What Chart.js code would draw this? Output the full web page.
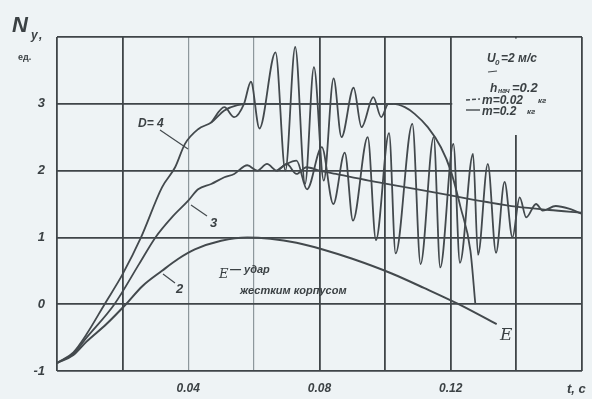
<!DOCTYPE html>
<html>
<head>
<meta charset="utf-8">
<script src="https://cdn.jsdelivr.net/npm/chart.js@4.4.0/dist/chart.umd.min.js"></script>
<style>
  body { margin: 0; background: #eef3f5; }
  #wrap { width: 592px; height: 399px; }
</style>
</head>
<body>
<div id="wrap"><canvas id="myChart" width="592" height="399"></canvas></div>
<script>
// значения (t, с ; Ny, ед.)
var xTickLabels = ["0.04", "0.08", "0.12"];
var yTickLabels = ["-1", "0", "1", "2", "3"];

// D = 4, m = 0.2 кг
var d4Time = [0, 0.005, 0.009, 0.0145, 0.020, 0.0256, 0.032, 0.036, 0.039, 0.043, 0.047, 0.051, 0.055, 0.060, 0.070, 0.080, 0.090, 0.1025, 0.106, 0.109, 0.113, 0.117, 0.120, 0.123, 0.126, 0.1275];
var d4Val  = [-0.88, -0.72, -0.45, 0, 0.45, 1.0, 1.75, 2.05, 2.4, 2.62, 2.72, 2.9, 2.98, 3.0, 3.0, 3.0, 3.0, 3.0, 2.95, 2.85, 2.65, 2.35, 2.0, 1.45, 0.8, 0.0];

// D = 4, m = 0.02 кг (колебания)
var d4oscTime = [0.047, 0.051, 0.054, 0.057, 0.0591, 0.0617, 0.0666, 0.0696, 0.0726, 0.0756, 0.0783, 0.0813, 0.0843, 0.0867, 0.0904, 0.0928, 0.0964, 0.0988, 0.1010, 0.1025];
var d4oscVal  = [2.72, 2.95, 2.8, 3.0, 3.33, 2.63, 3.77, 2.0, 3.85, 1.8, 3.55, 1.85, 3.38, 2.5, 3.24, 2.65, 3.1, 2.8, 3.0, 3.0];

// D = 3, m = 0.2 кг
var d3Time = [0, 0.005, 0.009, 0.0175, 0.025, 0.030, 0.035, 0.040, 0.043, 0.047, 0.051, 0.054, 0.058, 0.061, 0.064, 0.067, 0.070, 0.073, 0.076, 0.080, 0.085, 0.095, 0.103, 0.112, 0.122, 0.131, 0.140, 0.150, 0.160];
var d3Val  = [-0.88, -0.74, -0.5, 0, 0.6, 1.0, 1.3, 1.55, 1.72, 1.8, 1.9, 1.95, 2.08, 2.0, 2.1, 2.0, 2.1, 1.95, 2.05, 2.0, 1.95, 1.85, 1.78, 1.7, 1.61, 1.53, 1.46, 1.41, 1.37];

// D = 3, m = 0.02 кг (колебания)
var d3oscTime = [0.067, 0.070, 0.073, 0.0762, 0.0807, 0.0842, 0.0877, 0.0902, 0.0947, 0.0972, 0.1012, 0.1032, 0.1083, 0.1108, 0.1148, 0.1168, 0.1208, 0.1228, 0.1268, 0.1283, 0.1313, 0.1338, 0.1364, 0.1388, 0.141, 0.143, 0.146, 0.148, 0.152, 0.156, 0.160];
var d3oscVal  = [2.0, 2.1, 2.15, 1.72, 2.35, 1.5, 2.27, 1.25, 2.5, 0.96, 2.56, 0.76, 2.7, 0.6, 2.5, 0.55, 2.4, 0.62, 2.25, 0.74, 2.1, 0.77, 1.83, 1.0, 1.6, 1.3, 1.5, 1.4, 1.47, 1.43, 1.35];

// D = 2
var d2Time = [0, 0.005, 0.009, 0.015, 0.021, 0.026, 0.032, 0.037, 0.042, 0.050, 0.058, 0.065, 0.073, 0.081, 0.090, 0.102, 0.112, 0.1224, 0.134];
var d2Val  = [-0.88, -0.76, -0.56, -0.3, 0, 0.27, 0.5, 0.68, 0.82, 0.95, 1.0, 0.98, 0.92, 0.82, 0.68, 0.46, 0.24, 0.0, -0.3];

var lineColor = '#43494d';

function toPoints(times, vals){
  var pts = [];
  for (var i = 0; i < times.length; i++){
    pts.push({x: times[i], y: vals[i]});
  }
  return pts;
}

function makeSet(times, vals, width){
  return {
    data: toPoints(times, vals),
    borderColor: lineColor,
    borderWidth: width,
    pointRadius: 0,
    fill: false,
    cubicInterpolationMode: 'monotone'
  };
}

var font = 'italic bold 13px "Liberation Sans", Arial, sans-serif';

// фон, рамка легенды и подписи
var notes = {
  id: 'notes',
  beforeDraw: function(chart){
    var ctx = chart.ctx;
    ctx.save();
    ctx.fillStyle = '#eef3f5';
    ctx.fillRect(0, 0, chart.width, chart.height);
    ctx.restore();
  },
  beforeDatasetsDraw: function(chart){
    var ctx = chart.ctx;
    var x = chart.scales.x, y = chart.scales.y;
    ctx.save();
    ctx.fillStyle = '#eef3f5';
    // поле легенды закрывает сетку справа вверху
    var l = x.getPixelForValue(0.12) + 1.5;
    var r = x.getPixelForValue(0.16) - 1;
    var t = y.getPixelForValue(4) + 1.5;
    ctx.fillRect(l, t, r - l, 135 - t);
    ctx.restore();
  },
  afterDatasetsDraw: function(chart){
    var ctx = chart.ctx;
    ctx.save();
    ctx.fillStyle = '#3b4144';
    ctx.strokeStyle = '#454b4f';
    ctx.textBaseline = 'alphabetic';

    // ось Ny
    ctx.font = 'italic bold 22px "Liberation Sans", Arial, sans-serif';
    ctx.fillText('N', 12, 32);
    ctx.font = 'italic bold 12px "Liberation Sans", Arial, sans-serif';
    ctx.fillText('y', 31, 39);
    ctx.fillText(',', 39, 39);
    ctx.font = 'bold 9px "Liberation Sans", Arial, sans-serif';
    ctx.fillText('ед.', 18, 60);

    // ось t
    ctx.font = font;
    ctx.fillText('t, c', 567, 393);

    // метки кривых
    ctx.lineWidth = 1.2;
    ctx.beginPath();
    ctx.moveTo(160, 130); ctx.lineTo(188, 149);
    ctx.moveTo(191, 205); ctx.lineTo(207, 216);
    ctx.moveTo(163, 274); ctx.lineTo(175, 283);
    ctx.stroke();
    ctx.font = 'italic bold 12px "Liberation Sans", Arial, sans-serif';
    ctx.fillText('D= 4', 138, 127);
    ctx.font = font;
    ctx.fillText('3', 210, 227);
    ctx.fillText('2', 176, 293);

    // удар жестким корпусом
    ctx.font = 'italic 17px "DejaVu Serif", serif';
    ctx.fillText('E', 500, 340);
    ctx.font = 'italic 13px "DejaVu Serif", serif';
    ctx.fillText('E', 219, 278);
    ctx.font = 'italic bold 11px "Liberation Sans", Arial, sans-serif';
    ctx.fillText('— удар', 230, 273);
    ctx.fillText('жестким корпусом', 240, 294, 143);

    // легенда
    ctx.font = 'italic bold 12px "Liberation Sans", Arial, sans-serif';
    ctx.fillText('U', 487, 62);
    ctx.font = 'italic bold 8px "Liberation Sans", Arial, sans-serif';
    ctx.fillText('0', 495, 65);
    ctx.font = 'italic bold 12px "Liberation Sans", Arial, sans-serif';
    ctx.fillText('=2 м/с', 501, 62);

    ctx.lineWidth = 1.2;
    ctx.beginPath();
    ctx.moveTo(488, 72); ctx.lineTo(497, 71);
    ctx.stroke();
    ctx.fillText('h', 490, 92);
    ctx.font = 'italic bold 7px "Liberation Sans", Arial, sans-serif';
    ctx.fillText('нач', 498, 93);
    ctx.font = 'italic bold 13px "Liberation Sans", Arial, sans-serif';
    ctx.fillText('=0.2', 512, 92);

    ctx.lineWidth = 1.4;
    ctx.setLineDash([4, 2]);
    ctx.beginPath();
    ctx.moveTo(466, 100); ctx.lineTo(480, 99);
    ctx.stroke();
    ctx.setLineDash([]);
    ctx.beginPath();
    ctx.moveTo(466, 110); ctx.lineTo(480, 110);
    ctx.stroke();
    ctx.font = 'italic bold 12px "Liberation Sans", Arial, sans-serif';
    ctx.fillText('m=0.02', 482, 104);
    ctx.fillText('m=0.2', 482, 115);
    ctx.font = 'italic bold 8px "Liberation Sans", Arial, sans-serif';
    ctx.fillText('кг', 538, 103);
    ctx.fillText('кг', 527, 114);
    ctx.restore();
  }
};

var ctx = document.getElementById('myChart');
var chart = new Chart(ctx, {
  type: 'line',
  data: {
    datasets: [
      makeSet(d2Time, d2Val, 2),
      makeSet(d3Time, d3Val, 1.8),
      makeSet(d4Time, d4Val, 1.8),
      makeSet(d4oscTime, d4oscVal, 1.8),
      makeSet(d3oscTime, d3oscVal, 1.8)
    ]
  },
  options: {
    responsive: false,
    animation: false,
    layout: { padding: { top: 37, right: 4, left: 0, bottom: 0 } },
    plugins: {
      legend: { display: false },
      tooltip: { enabled: false }
    },
    scales: {
      x: {
        type: 'linear',
        min: 0,
        max: 0.16,
        afterFit: function(s){ s.height = 28; },
        afterBuildTicks: function(s){
          var ticks = [];
          for (var i = 0; i <= 8; i++) ticks.push({value: i * 0.02});
          s.ticks = ticks;
        },
        border: { display: false },
        grid: {
          drawTicks: false,
          color: function(c){
            var k = Math.round(c.tick.value * 100);
            return (k == 4 || k == 6) ? '#8d979c' : '#3f4548';
          },
          lineWidth: function(c){
            var k = Math.round(c.tick.value * 100);
            return (k == 4 || k == 6) ? 1.2 : 1.8;
          }
        },
        ticks: {
          padding: 10,
          maxRotation: 0,
          autoSkip: false,
          color: '#3b4144',
          font: { family: '"Liberation Sans", Arial, sans-serif', size: 12, style: 'italic', weight: 'bold' },
          callback: function(v){
            var k = Math.round(v * 100);
            var idx = [4, 8, 12].indexOf(k);
            return idx >= 0 ? xTickLabels[idx] : '';
          }
        }
      },
      y: {
        type: 'linear',
        min: -1,
        max: 4,
        afterFit: function(s){ s.width = 57; },
        border: { display: false },
        grid: {
          drawTicks: false,
          color: '#3f4548',
          lineWidth: 1.8
        },
        ticks: {
          stepSize: 1,
          padding: 12,
          color: '#3b4144',
          font: { family: '"Liberation Sans", Arial, sans-serif', size: 13, style: 'italic', weight: 'bold' },
          callback: function(v){
            var idx = Math.round(v) + 1;
            return idx < yTickLabels.length ? yTickLabels[idx] : '';
          }
        }
      }
    }
  },
  plugins: [notes]
});
</script>
</body>
</html>
